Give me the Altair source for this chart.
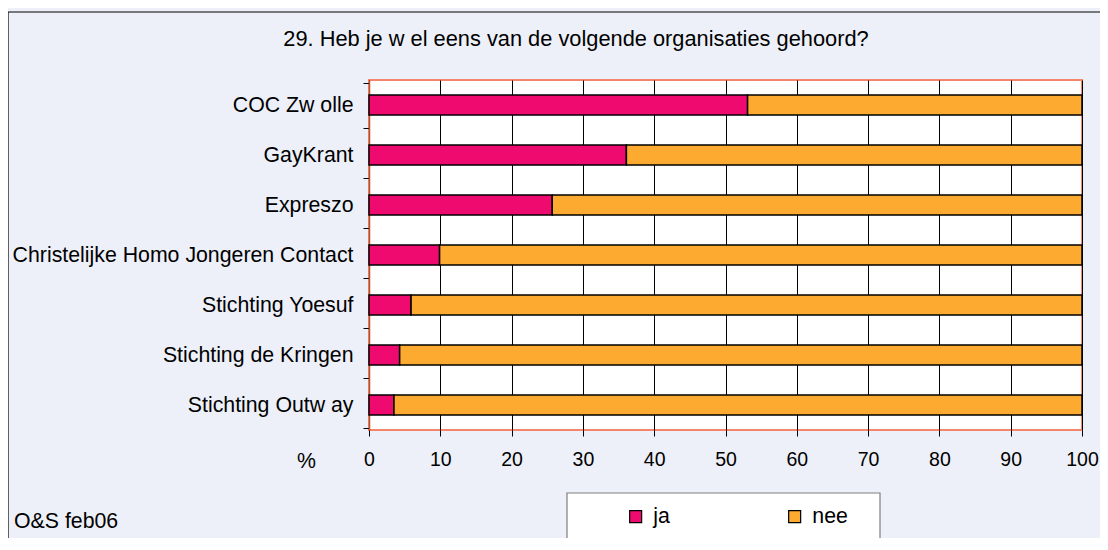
import altair as alt
import pandas as pd

categories = [
    "COC Zw olle",
    "GayKrant",
    "Expreszo",
    "Christelijke Homo Jongeren Contact",
    "Stichting Yoesuf",
    "Stichting de Kringen",
    "Stichting Outw ay",
]
ja = [53.1, 36.1, 25.7, 9.9, 5.9, 4.3, 3.5]
nee = [round(100 - v, 1) for v in ja]
series = ["ja", "nee"]
colors = ["#EE0A6E", "#FDAA30"]
x_ticks = list(range(0, 101, 10))

rows = []
for c, a, b in zip(categories, ja, nee):
    rows.append({"cat": c, "serie": "ja", "val": a, "ord": 0})
    rows.append({"cat": c, "serie": "nee", "val": b, "ord": 1})
df = pd.DataFrame(rows)

W, H = 713, 350
FONT = "Liberation Sans"
FS = 21.3

base = alt.Chart(df)
one = "datum.ord == 0 && datum.cat == 'GayKrant'"

frame = base.mark_rect(fill="transparent", stroke="black", strokeWidth=1.2).encode(
    x=alt.value(-361), x2=alt.value(900), y=alt.value(-68), y2=alt.value(600)
).transform_filter(one)

legend_box = base.mark_rect(fill="white", stroke="#7F7F7F", strokeWidth=1.2).encode(
    x=alt.value(198), x2=alt.value(511), y=alt.value(413), y2=alt.value(463)
).transform_filter(one)

bars = base.mark_bar(size=20, stroke="black", strokeWidth=1.5).encode(
    y=alt.Y("cat:N", sort=categories, title=None,
            axis=alt.Axis(tickBand="extent", labelFont=FONT, labelFontSize=FS,
                          labelColor="black", tickColor="black", tickSize=6,
                          labelPadding=10, domainColor="#B5532F", domainWidth=1.5,
                          grid=False, labelLimit=400)),
    x=alt.X("val:Q", stack="zero",
            scale=alt.Scale(domain=[0, 100], nice=False),
            axis=alt.Axis(values=x_ticks, title="%", titleX=-63, titleY=31,
                          titleAlign="center", titleBaseline="middle",
                          titleFont=FONT, titleFontSize=FS, titleFontWeight="normal",
                          titleColor="black", titleAngle=0,
                          labelFont=FONT, labelFontSize=19.5, labelColor="black",
                          labelFlush=False,
                          labelPadding=14, tickSize=6, tickColor="black",
                          domain=False, grid=True, gridColor="black",
                          gridWidth=1, gridOpacity=1)),
    color=alt.Color("serie:N", sort=series,
                    scale=alt.Scale(domain=series, range=colors),
                    legend=alt.Legend(orient="none", legendX=256, legendY=426,
                                      direction="horizontal", title=None,
                                      symbolType="square", symbolSize=144,
                                      symbolStrokeColor="black", symbolStrokeWidth=1.2,
                                      labelFont=FONT, labelFontSize=FS, labelColor="black",
                                      labelOffset=7, columnPadding=114)),
    order=alt.Order("ord:Q"),
)

title_txt = base.mark_text(font=FONT, fontSize=21.8, color="black", align="center",
                           baseline="middle").encode(
    x=alt.value(207), y=alt.value(-41),
    text=alt.value("29. Heb je w el eens van de volgende organisaties gehoord?")
).transform_filter(one)

foot_txt = base.mark_text(font=FONT, fontSize=FS, color="black", align="left",
                          baseline="middle").encode(
    x=alt.value(-355), y=alt.value(442), text=alt.value("O&S feb06")
).transform_filter(one)

chart = alt.layer(frame, legend_box, bars, title_txt, foot_txt).properties(
    width=W, height=H,
    background="#EDF0F8",
    padding={"left": 361, "top": 72, "right": 18, "bottom": 108},
    autosize=alt.AutoSizeParams(type="none"),
).configure_view(fill="white", stroke="#F4846A", strokeWidth=2)

chart.save("out.html", embed_options={"renderer": "svg", "actions": False})
